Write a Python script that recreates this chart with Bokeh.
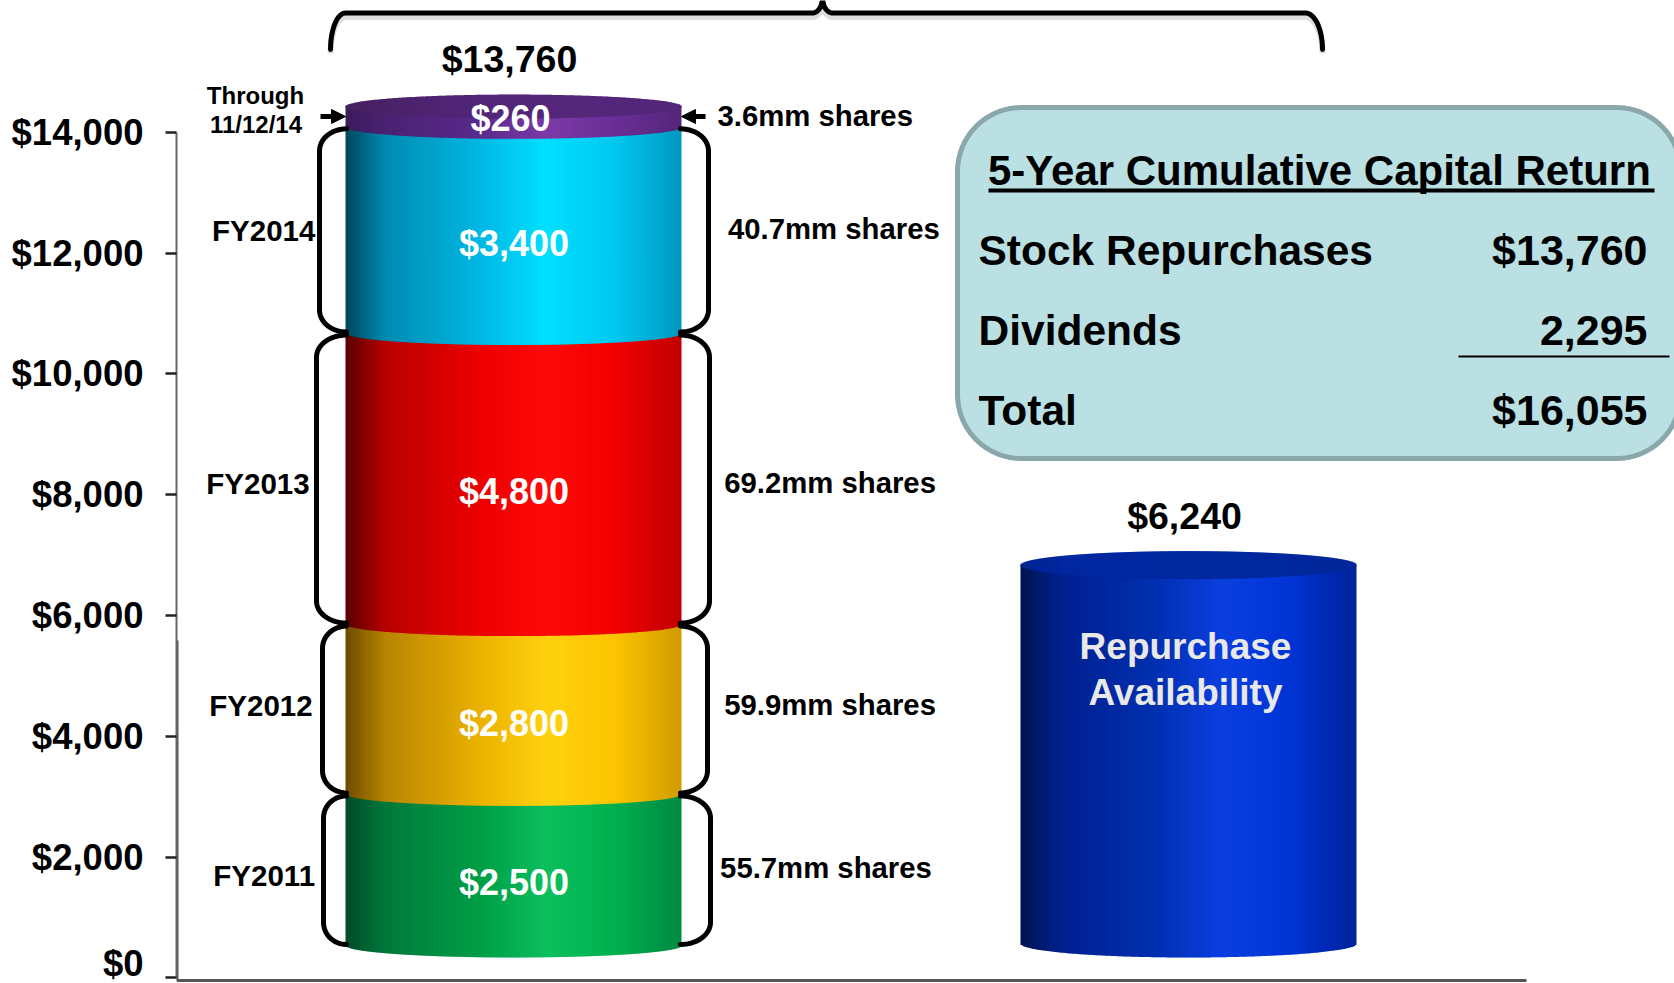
import numpy as np
from bokeh.plotting import figure
from bokeh.models import Range1d, NumeralTickFormatter, FixedTicker, Arrow, NormalHead
from bokeh.core.properties import value
from bokeh.embed import file_html
from bokeh.resources import INLINE

# ---- data ----
segment_years = ["FY2011", "FY2012", "FY2013", "FY2014", "Through"]
segment_values = [2500, 2800, 4800, 3400, 260]
segment_labels = ["$2,500", "$2,800", "$4,800", "$3,400", "$260"]
segment_shares = ["55.7mm shares", "59.9mm shares", "69.2mm shares", "40.7mm shares", "3.6mm shares"]
availability_value = 6240
total_repurchased = "$13,760"
availability_label = "$6,240"
availability_text = ["Repurchase", "Availability"]
y_ticks = [0, 2000, 4000, 6000, 8000, 10000, 12000, 14000]
box_title = "5-Year Cumulative Capital Return"
box_rows = ["Stock Repurchases", "Dividends", "Total"]
box_values = ["$13,760", "2,295", "$16,055"]

# ---- layout constants (pixels of the 1674x983 page) ----
W, H = 1674, 983
FRAME_LEFT, FRAME_BOTTOM = 176, 983
PX_ZERO, PX_PER_DOLLAR = 977.3, 0.0604
STACK_SCALE = 1.004
FONT = value("Liberation Sans")


def Y(px):
    return (PX_ZERO - np.asarray(px, dtype=float)) / PX_PER_DOLLAR


def D(px):
    return np.asarray(px, dtype=float) / PX_PER_DOLLAR


p = figure(width=W, height=H, output_backend="svg", toolbar_location=None,
           x_range=Range1d(FRAME_LEFT, W), y_range=Range1d(float(Y(FRAME_BOTTOM)), float(Y(0))),
           min_border_left=FRAME_LEFT, min_border_right=0, min_border_top=0,
           min_border_bottom=H - FRAME_BOTTOM)
p.outline_line_color = None
p.grid.visible = False
p.xaxis.visible = False
ax = p.yaxis[0]
ax.ticker = FixedTicker(ticks=y_ticks)
ax.formatter = NumeralTickFormatter(format="$0,0")
ax.major_label_text_font = "Liberation Sans"
ax.major_label_text_font_style = "bold"
ax.major_label_text_font_size = "36.5px"
ax.major_label_text_color = "#000000"
ax.major_label_standoff = 22
ax.major_tick_out = 11
ax.major_tick_in = 0
ax.major_tick_line_color = "#222222"
ax.major_tick_line_width = 2.5
ax.minor_tick_line_color = None
ax.axis_line_color = "#666666"
ax.axis_line_width = 2
ax.bounds = (0, 14000)

# heavier lower part of the axes, as in the picture
p.segment(x0=[176.5, 176], y0=[float(Y(640)), float(Y(980))], x1=[176.5, 1526], y1=[float(Y(980)), float(Y(980))],
          line_color="#555555", line_width=3)

GRAD_POS = [0.0, 0.12, 0.4, 0.6, 0.8, 1.0]
STOPS = {
    "green": ["#004a28", "#007a3c", "#009e46", "#0cc05e", "#00b04f", "#008a43"],
    "yellow": ["#6e4c00", "#b88600", "#ecb200", "#ffd20f", "#fcc500", "#d09c00"],
    "red": ["#5a0000", "#b80000", "#ee0000", "#ff0a0a", "#f20000", "#c00000"],
    "cyan": ["#00475d", "#008cb2", "#00b8e4", "#00e0ff", "#00c8f0", "#0098bf"],
    "purple": ["#3c1c5c", "#4a2272", "#5b2a8c", "#7c3aa8", "#6a2f96", "#55267a"],
    "blue": ["#00154f", "#00208f", "#0030b0", "#0c3fe0", "#0035d5", "#00229a"],
    "purple_top": ["#47205f", "#4b2268", "#53267a", "#55277c", "#55277a", "#522678"],
    "blue_top": ["#00248f", "#0026a0", "#0028a0", "#002a9e", "#00289c", "#00269a"],
}


def grad(name, t):
    rgb = np.array([[int(c[i:i + 2], 16) for i in (1, 3, 5)] for c in STOPS[name]], dtype=float)
    chan = [np.interp(t, GRAD_POS, rgb[:, k]) for k in range(3)]
    return ["#%02x%02x%02x" % (int(a), int(b), int(c)) for a, b, c in zip(*chan)]


def body(cx, half, y0, y1, ry, name):
    """Front of a cylinder section, from the value y0 to the value y1."""
    xs = np.arange(-half, half, 2.0)
    u = np.clip((xs + 1) / half, -1, 1)
    arc = D(ry) * np.sqrt(1 - u ** 2)
    p.quad(left=cx + xs, right=np.minimum(cx + xs + 2.7, cx + half), bottom=y0 - arc, top=np.full_like(xs, y1),
           fill_color=grad(name, (u + 1) / 2), line_color=None)


def cap(cx, half, y, ry, name):
    xs = np.arange(-half, half, 2.0)
    u = np.clip((xs + 1) / half, -1, 1)
    arc = D(ry) * np.sqrt(1 - u ** 2)
    p.quad(left=cx + xs, right=np.minimum(cx + xs + 2.7, cx + half), bottom=y - arc, top=y + arc,
           fill_color=grad(name, (u + 1) / 2), line_color=None)


# ---- stacked cylinder ----
CX, HALF, RY = 513.0, 168.0, 12.0
BASE = float(Y(945))
edges = BASE + np.concatenate([[0], np.cumsum(segment_values)]) * STACK_SCALE
names = ["green", "yellow", "red", "cyan", "purple"]
LIFT = 4.5
for i, nm in enumerate(names):
    top = edges[i + 1] + (D(LIFT) if nm == "purple" else 0)
    body(CX, HALF, edges[i], top, RY, nm)
cap(CX, HALF, edges[-1] + D(LIFT), RY, "purple_top")

# ---- availability cylinder ----
CX2, HALF2, RY2 = 1188.0, 168.0, 14.0
BASE2 = float(Y(943))
top2 = BASE2 + availability_value * STACK_SCALE
body(CX2, HALF2, BASE2, top2, RY2, "blue")
cap(CX2, HALF2, top2, RY2, "blue_top")


# ---- curly side brackets ----
def arc_pts(x0, y0, x1, y1, first_horizontal=True, n=14):
    th = np.linspace(0, np.pi / 2, n)
    if first_horizontal:
        return x0 + (x1 - x0) * np.sin(th), y0 + (y1 - y0) * (1 - np.cos(th))
    return x0 + (x1 - x0) * (1 - np.cos(th)), y0 + (y1 - y0) * np.sin(th)


def bracket(x_edge, x_tip, top_px, bot_px, r=22):
    ax1, ay1 = arc_pts(x_edge, top_px, x_tip, top_px + r, True)
    ax2, ay2 = arc_pts(x_tip, bot_px - r, x_edge, bot_px, False)
    return np.concatenate([ax1, ax2]), np.concatenate([ay1, ay2])


left_tips = [323, 322, 316, 319]
right_tips = [710, 707, 709, 708]
edge_px = PX_ZERO - edges * PX_PER_DOLLAR
bx, by = [], []
for i in range(4):
    top_px, bot_px = edge_px[i + 1] + 2, edge_px[i] - 1
    for xe, xt in ((346, left_tips[i]), (680, right_tips[i])):
        a, b = bracket(xe, xt, top_px, bot_px)
        bx.append(a)
        by.append(Y(b))
# top bracket over the stack
tx1, ty1 = arc_pts(330, 49, 345, 12.5, False)
tx2, ty2 = arc_pts(812, 12.5, 822, -3, True)
tx3, ty3 = arc_pts(822, -3, 832, 12.5, False)
tx4, ty4 = arc_pts(1305, 12.5, 1322, 49, True)
top_x = np.concatenate([tx1, tx2, tx3, tx4])
top_y = np.concatenate([ty1, ty2, ty3, ty4])
p.line(top_x, Y(top_y + 4), line_color="#bbbbbb", line_width=6, line_alpha=0.5)
bx.append(top_x)
by.append(Y(top_y))
p.multi_line(xs=[list(a) for a in bx], ys=[list(b) for b in by], line_color="#000000", line_width=5,
             line_cap="round", line_join="round")

# ---- arrows at the top section ----
for xs_, xe_ in ((320, 345), (705, 681)):
    p.add_layout(Arrow(end=NormalHead(size=14, fill_color="#000000", line_color="#000000"),
                       x_start=xs_, x_end=xe_, y_start=float(Y(116)), y_end=float(Y(116)),
                       line_color="#000000", line_width=5))

# ---- summary box ----
BL, BR, BT, BB, RAD = 957.0, 1680.0, 107.0, 458.0, 64.0
th = np.linspace(0, np.pi / 2, 24)
box_x = np.concatenate([BL + RAD * (1 - np.cos(th)), BR - RAD * (1 - np.sin(th)),
                        BR - RAD * (1 - np.cos(th)), BL + RAD * (1 - np.sin(th))])
box_y = np.concatenate([BT + RAD * (1 - np.sin(th)), BT + RAD * (1 - np.cos(th)),
                        BB - RAD * (1 - np.sin(th)), BB - RAD * (1 - np.cos(th))])
p.patch(box_x, Y(box_y), fill_color="#bae0e3", line_color="#8aa8ac", line_width=5)
p.segment(x0=[988, 1458], x1=[1654, 1669], y0=[float(Y(190)), float(Y(356))], y1=[float(Y(190)), float(Y(356))],
          line_color="#000000", line_width=[4, 2])


def txt(x, y_px, s, size, color="#000000", align="center", alpha=1.0):
    p.text(x=[x], y=[float(Y(y_px))], text=[s], text_font=FONT, text_font_style="bold",
           text_font_size=f"{size}px", text_color=color, text_align=align, text_baseline="middle",
           text_alpha=alpha)


txt(987.5, 170, box_title, 42, align="left")
for s, py in zip(box_rows, (249.5, 330, 409.5)):
    txt(978, py, s, 42.5, align="left")
for s, py in zip(box_values, (249.5, 330, 409.5)):
    txt(1647, py, s, 43, align="right")

# ---- labels ----
txt(509, 58, total_repurchased, 37.5)
txt(1184, 515.5, availability_label, 37.5)
for s, py in zip(availability_text, (646, 691.5)):
    txt(1185, py, s, 37, color="#e8e8e8")

for s, px, py in zip(segment_labels, (513.5, 513.5, 513.5, 513.5, 510), (882, 722.5, 490.5, 243, 117.5)):
    txt(px, py, s, 36, color="#ffffff")

for s, px, py in zip(segment_years[:4], (263.7, 260.5, 257.5, 263.2), (875, 705, 483, 230), ):
    txt(px, py, s, 29.5)
txt(255, 94.5, segment_years[4], 24)
txt(255.5, 123.5, "11/12/14", 24)

for s, px, py in zip(segment_shares, (719.6, 723.7, 723.7, 727.5, 717), (866.5, 704, 481.5, 228, 114.5)):
    txt(px, py, s, 29.3, align="left")

open("out.html", "w").write(file_html(p, INLINE))
